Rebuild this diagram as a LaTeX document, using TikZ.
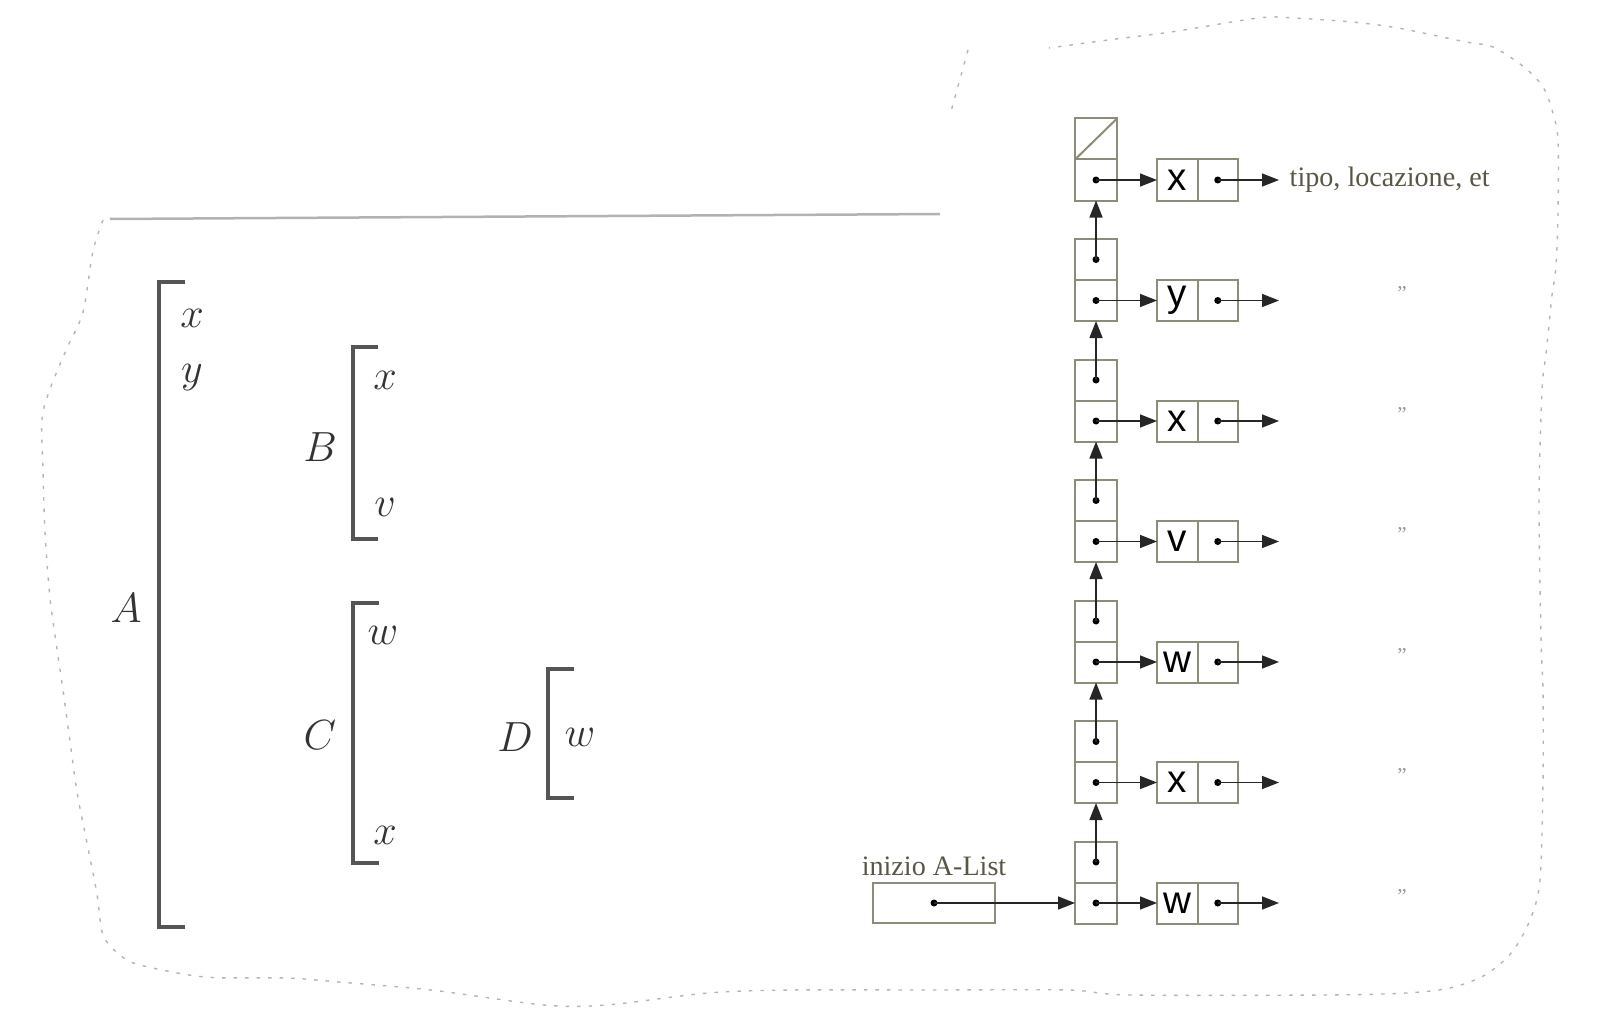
\documentclass[tikz,border=0pt]{standalone}
\usepackage{fontspec}
\newfontfamily\labfont{Liberation Serif}
\newfontfamily\keyfont{Liberation Sans}
\usetikzlibrary{arrows.meta}
\definecolor{boxc}{HTML}{8C8C78}
\definecolor{labc}{HTML}{5A5646}
\definecolor{brk}{HTML}{555555}
\definecolor{edgec}{HTML}{B4B4B4}
\begin{document}
\begin{tikzpicture}[x=0.1mm,y=-0.1mm,
  cell/.style={draw=boxc, line width=0.2mm, minimum width=4.2mm, minimum height=4.1mm, inner sep=0pt, outer sep=0pt},
  kcell/.style={cell, minimum width=4.05mm, font=\keyfont\fontsize{11}{12}\selectfont},
  ptr/.style={line width=0.15mm, draw=black!85, -{Triangle[length=1.7mm,width=1.3mm]}},
  pdot/.style={circle, fill=black, inner sep=0pt, minimum size=0.7mm},
  brack/.style={line width=0.4mm, draw=brk},
  mlab/.style={font=\fontsize{12.5}{15}\selectfont, inner sep=0pt, text=black!80},
  serlab/.style={font=\labfont\fontsize{8}{9}\selectfont, text=labc, inner sep=0pt},
  ditto/.style={font=\labfont\fontsize{6}{7}\selectfont, text=black!40, inner sep=0pt},
  torn/.style={draw=edgec, line width=0.14mm, dash pattern=on 0.35mm off 0.8mm}
]
\useasboundingbox (0,0) rectangle (1610,1024);

% torn paper outline
\draw[torn] plot[smooth] coordinates {(103,220) (93,251) (83,312) (67,348) (50,389) (42,419) (43,470) (45,532) (50,598) (57,649) (63,690) (70,741) (77,792) (87,843) (97,894) (103,935) (120,955) (140,965) (205,977) (287,978) (339,982) (431,990) (544,1005) (606,1005) (708,993) (790,990) (930,990) (1068,990) (1129,995) (1324,995) (1406,993) (1450,988) (1485,975) (1512,952) (1530,920) (1540,880) (1543,780) (1543,692) (1541,638) (1539,500) (1542,390) (1546,354) (1549,325) (1552,295) (1556,266) (1558,212) (1558,140) (1552,110) (1543,87) (1524,67) (1493,47) (1466,42) (1398,28) (1352,22) (1294,18) (1271,17) (1244,20) (1171,32) (1108,40) (1049,48)};
\draw[torn] (968,50) -- (950,115);
\draw[draw=black!30, line width=0.25mm] (110,219) -- (940,214);

% brackets
\draw[brack] (185,282) -- (159,282) -- (159,927) -- (185,927);
\draw[brack] (378,347) -- (353,347) -- (353,539) -- (378,539);
\draw[brack] (379,603) -- (353,603) -- (353,863) -- (379,863);
\draw[brack] (574,669) -- (548,669) -- (548,798) -- (574,798);

\node[mlab] (A) at (126,608) {$A$};
\node[mlab] (Ax) at (192,318) {$x$};
\node[mlab] (Ay) at (192,378) {$y$};
\node[mlab] (B) at (320,447) {$B$};
\node[mlab] (Bx) at (385,380) {$x$};
\node[mlab] (Bv) at (385,507) {$v$};
\node[mlab] (C) at (320,735) {$C$};
\node[mlab] (Cw) at (383,635) {$w$};
\node[mlab] (Cx) at (385,835) {$x$};
\node[mlab] (D) at (515,737) {$D$};
\node[mlab] (Dw) at (580,737) {$w$};

% list
\foreach \k [count=\i from 0] in {x,y,x,v,w,x,w} {
  \pgfmathsetmacro\yy{180+120.5*\i}
  \node[cell] (p\i) at (1096,\yy) {};
  \node[cell] (u\i) at (1096,\yy-41) {};
  \node[kcell] (k\i) at (1177.25,\yy) {\k};
  \node[cell, minimum width=4.05mm] (v\i) at (1217.75,\yy) {};
  \coordinate (e\i) at (1279,\yy);
  \node[pdot] (pd\i) at (p\i.center) {};
  \node[pdot] (vd\i) at (v\i.center) {};
  \draw[ptr] (pd\i.center) -- (k\i.west);
  \draw[ptr] (vd\i.center) -- (e\i);
  \ifnum\i>0
    \pgfmathtruncatemacro\j{\i-1}
    \node[pdot] (ud\i) at (u\i.center) {};
    \draw[ptr] (ud\i.center) -- (p\j.south);
    \node[ditto] (dm\i) at (1402,\yy-7) {”};
  \else
    \draw[draw=boxc, line width=0.2mm] (u0.south west) -- (u0.north east);
  \fi
}
\node[serlab, anchor=west] (tipo) at (1289,180) {tipo, locazione, et};

\node[cell, minimum width=12.2mm, minimum height=4mm] (st) at (934,903) {};
\node[pdot] (sd) at (st.center) {};
\draw[ptr] (sd.center) -- (p6.west);
\node[serlab] (stl) at (934,866) {inizio A-List};
\end{tikzpicture}
\end{document}
